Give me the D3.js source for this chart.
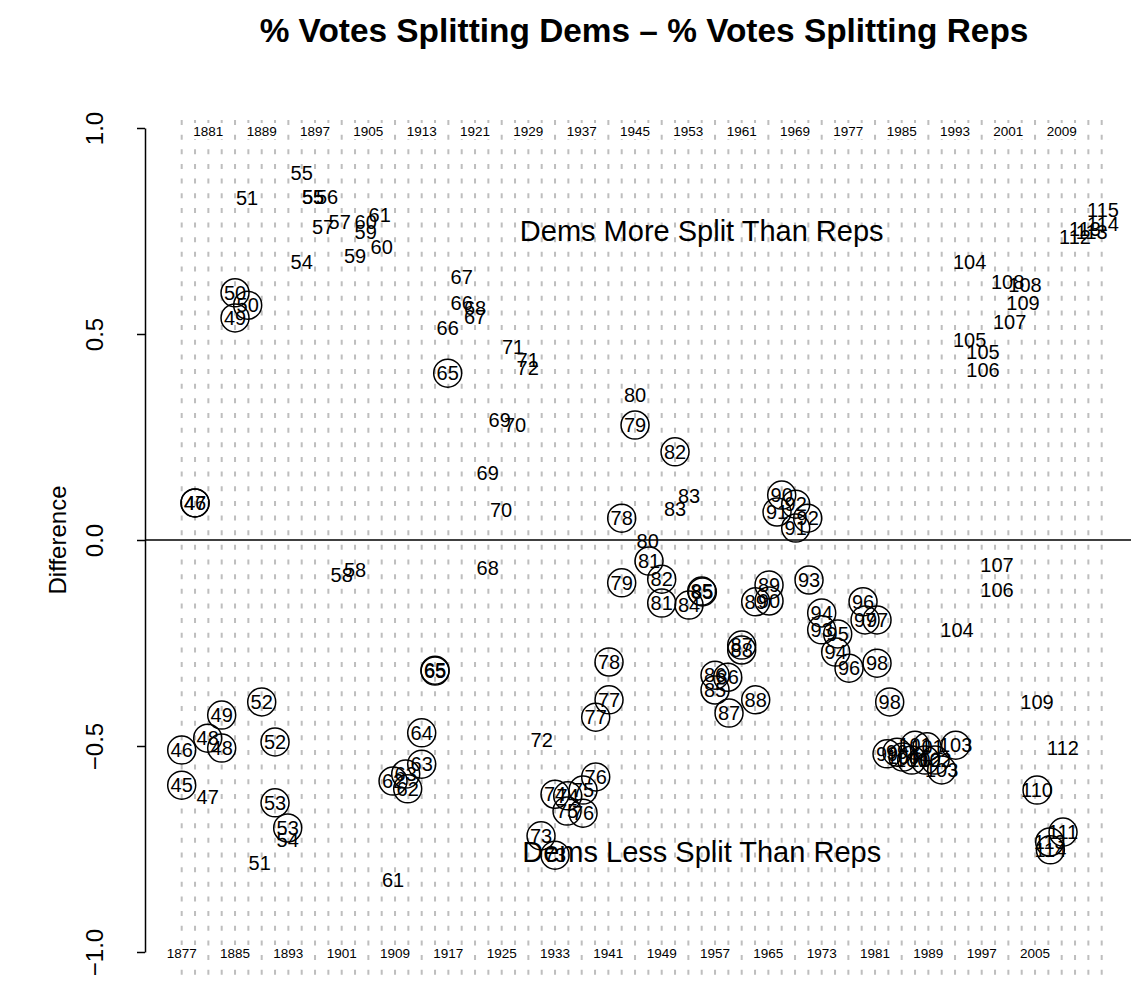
<!DOCTYPE html>
<meta charset="utf-8">
<title>% Votes Splitting Dems - % Votes Splitting Reps</title>
<style>
  body { margin: 0; background: white; }
  svg { font-family: "Liberation Sans", Arial, sans-serif; }
</style>
<body>
<div id="chart"></div>
<script src="https://d3js.org/d3.v7.min.js"></script>
<script>

// congress labels drawn as plain text
var plainLabels = ["55","51","55","55","56","57","57","60","59","61","60","59","54","67","66","68","67","66","71","71","72","69","70","69","70","80","83","83","104","108","108","109","107","105","105","106","115","114","113","112","113",
                   "80","58","58","68","107","106","104","72","109","112","47","54","51","61"];
var plainYears  = [1895.0,1886.8,1896.7,1896.7,1898.8,1898.2,1900.7,1904.6,1904.6,1906.7,1907.0,1903.0,1895.0,1919.0,1919.0,1921.0,1921.0,1916.9,1926.7,1928.9,1928.9,1924.7,1927.0,1922.9,1924.9,1945.0,1953.1,1951.0,1995.2,2000.9,2003.5,2003.2,2001.2,1995.2,1997.2,1997.2,2015.2,2015.2,2013.5,2011.0,2012.5,
                   1946.9,1901.0,1903.0,1922.9,1999.3,1999.3,1993.3,1931.0,2005.3,2009.2,1880.9,1892.9,1888.7,1908.7];
var plainValues = [0.891,0.830,0.833,0.833,0.833,0.760,0.772,0.772,0.748,0.789,0.711,0.689,0.675,0.638,0.575,0.563,0.541,0.515,0.468,0.437,0.417,0.291,0.279,0.163,0.073,0.352,0.107,0.075,0.675,0.626,0.619,0.575,0.529,0.485,0.456,0.413,0.801,0.767,0.748,0.735,0.755,
                   -0.002,-0.085,-0.073,-0.068,-0.061,-0.121,-0.218,-0.485,-0.393,-0.505,-0.624,-0.728,-0.784,-0.825];

// congress labels drawn inside a circle
var circLabels = ["50","50","49","65","46","47","79","82","78","90","92","91","92","91",
                  "52","49","48","48","46","52","45","53","53","65","65","64","63","63","62","62",
                  "78","77","77","76","74","74","75","75","76","73","73",
                  "81","82","79","81","84","85","85","89","89","90",
                  "93","94","93","95","94","96","96","97","97","98","98",
                  "87","88","86","86","85","88","87",
                  "110","111","113","114",
                  "99","100","100","101","101","102","102","103","103","99"];
var circYears  = [1885.0,1886.9,1885.0,1916.9,1879.0,1879.0,1945.0,1951.0,1943.0,1967.0,1969.1,1966.3,1970.9,1969.1,
                  1889.0,1883.0,1880.9,1883.0,1877.0,1891.0,1877.0,1891.0,1892.9,1915.0,1915.0,1913.0,1913.0,1910.6,1908.7,1910.9,
                  1941.1,1941.1,1939.1,1939.1,1933.0,1934.9,1937.2,1934.8,1937.2,1930.9,1933.0,
                  1947.1,1949.0,1943.0,1949.0,1953.1,1955.0,1955.1,1965.1,1963.1,1965.1,
                  1971.1,1973.0,1973.0,1975.4,1975.1,1977.1,1979.2,1979.5,1981.3,1981.3,1983.2,
                  1961.0,1961.0,1957.0,1958.9,1957.0,1963.1,1959.1,
                  2005.3,2009.2,2007.2,2007.3,
                  1982.8,1985.2,1986.5,1987.0,1988.8,1988.5,1990.0,1993.1,1991.0,1984.3];
var circValues = [0.600,0.570,0.539,0.405,0.090,0.090,0.279,0.214,0.053,0.109,0.087,0.068,0.053,0.029,
                  -0.393,-0.425,-0.481,-0.505,-0.510,-0.490,-0.595,-0.638,-0.699,-0.316,-0.318,-0.468,-0.544,-0.568,-0.585,-0.604,
                  -0.296,-0.388,-0.430,-0.575,-0.617,-0.621,-0.607,-0.658,-0.663,-0.718,-0.765,
                  -0.051,-0.095,-0.104,-0.153,-0.158,-0.124,-0.126,-0.109,-0.150,-0.148,
                  -0.097,-0.177,-0.218,-0.228,-0.272,-0.311,-0.150,-0.194,-0.194,-0.299,-0.393,
                  -0.255,-0.267,-0.328,-0.333,-0.364,-0.388,-0.420,
                  -0.607,-0.709,-0.733,-0.752,
                  -0.519,-0.527,-0.534,-0.498,-0.502,-0.534,-0.534,-0.498,-0.558,-0.515];

// vertical grid (one per congress) and year labels
var gridYears = d3.range(1877, 2016, 2);
var topYearLabels = d3.range(1881, 2010, 8);
var bottomYearLabels = d3.range(1877, 2006, 8);
var yTicks = [-1, -0.5, 0, 0.5, 1];

var width = 1131, height = 986;

var svg = d3.select("#chart").append("svg")
  .attr("width", width)
  .attr("height", height);

var x = d3.scaleLinear().domain([1877, 2015]).range([181.7, 1101.7]);
var y = d3.scaleLinear().domain([-1, 1]).range([952, 128]);

// dashed vertical lines
svg.append("g").selectAll("line")
  .data(gridYears)
  .enter().append("line")
    .attr("x1", function(d) { return x(d); })
    .attr("x2", function(d) { return x(d); })
    .attr("y1", 120)
    .attr("y2", 980)
    .attr("stroke", "#bebebe")
    .attr("stroke-width", 2)
    .attr("stroke-dasharray", "5,9.65");

// year labels, top and bottom, over a white patch
function yearLabels(years, yPos) {
  var g = svg.append("g");
  g.selectAll("rect")
    .data(years)
    .enter().append("rect")
      .attr("x", function(d) { return x(d) - 17; })
      .attr("y", yPos - 8)
      .attr("width", 34)
      .attr("height", 16)
      .attr("fill", "white");
  g.selectAll("text")
    .data(years)
    .enter().append("text")
      .attr("x", function(d) { return x(d); })
      .attr("y", yPos)
      .attr("dy", "0.36em")
      .attr("text-anchor", "middle")
      .style("font-size", "13.5px")
      .text(function(d) { return d; });
}
yearLabels(topYearLabels, y(1) + 3);
yearLabels(bottomYearLabels, y(-1) + 1);

// zero line
svg.append("line")
  .attr("x1", 145).attr("x2", width)
  .attr("y1", y(0)).attr("y2", y(0))
  .attr("stroke", "black")
  .attr("stroke-width", 1.5);

// y axis
var yAxis = svg.append("g")
  .attr("transform", "translate(145,0)")
  .call(d3.axisLeft(y).tickValues(yTicks).tickSize(8).tickSizeOuter(0)
        .tickFormat(function(d) { return d3.format(".1f")(d).replace("-", "\u2212"); }));
yAxis.select(".domain").attr("stroke-width", 1.5);
yAxis.selectAll(".tick line").attr("stroke-width", 1.5);
yAxis.selectAll(".tick text")
  .attr("x", null).attr("dy", null)
  .attr("transform", "translate(-42,0) rotate(-90)")
  .attr("text-anchor", "middle")
  .style("font-size", "24px")
  .style("font-family", "'Liberation Sans', Arial, sans-serif");

svg.append("text")
  .attr("transform", "translate(66," + y(0) + ") rotate(-90)")
  .attr("text-anchor", "middle")
  .style("font-size", "24px")
  .text("Difference");

// title
svg.append("text")
  .attr("x", 644)
  .attr("y", 42)
  .attr("text-anchor", "middle")
  .style("font-size", "33.4px")
  .style("font-weight", "bold")
  .text("% Votes Splitting Dems \u2013 % Votes Splitting Reps");

// annotations
svg.append("text")
  .attr("x", x(1955)).attr("y", y(0.752)).attr("dy", "0.36em")
  .attr("text-anchor", "middle")
  .style("font-size", "29px")
  .text("Dems More Split Than Reps");
svg.append("text")
  .attr("x", x(1955)).attr("y", y(-0.755)).attr("dy", "0.36em")
  .attr("text-anchor", "middle")
  .style("font-size", "29px")
  .text("Dems Less Split Than Reps");

// plain labels
var plainData = plainLabels.map(function(l, i) { return {label: l, year: plainYears[i], value: plainValues[i]}; });
var circData = circLabels.map(function(l, i) { return {label: l, year: circYears[i], value: circValues[i]}; });

svg.append("g").selectAll("text")
  .data(plainData)
  .enter().append("text")
    .attr("x", function(d) { return x(d.year); })
    .attr("y", function(d) { return y(d.value); })
    .attr("dy", "0.36em")
    .attr("text-anchor", "middle")
    .style("font-size", "20px")
    .text(function(d) { return d.label; });

// circled labels
var cg = svg.append("g");
cg.selectAll("circle")
  .data(circData)
  .enter().append("circle")
    .attr("cx", function(d) { return x(d.year); })
    .attr("cy", function(d) { return y(d.value); })
    .attr("r", 14)
    .attr("fill", "none")
    .attr("stroke", "black")
    .attr("stroke-width", 1.5);
cg.selectAll("text")
  .data(circData)
  .enter().append("text")
    .attr("x", function(d) { return x(d.year); })
    .attr("y", function(d) { return y(d.value); })
    .attr("dy", "0.36em")
    .attr("text-anchor", "middle")
    .style("font-size", "20px")
    .text(function(d) { return d.label; });

</script>
</body>
